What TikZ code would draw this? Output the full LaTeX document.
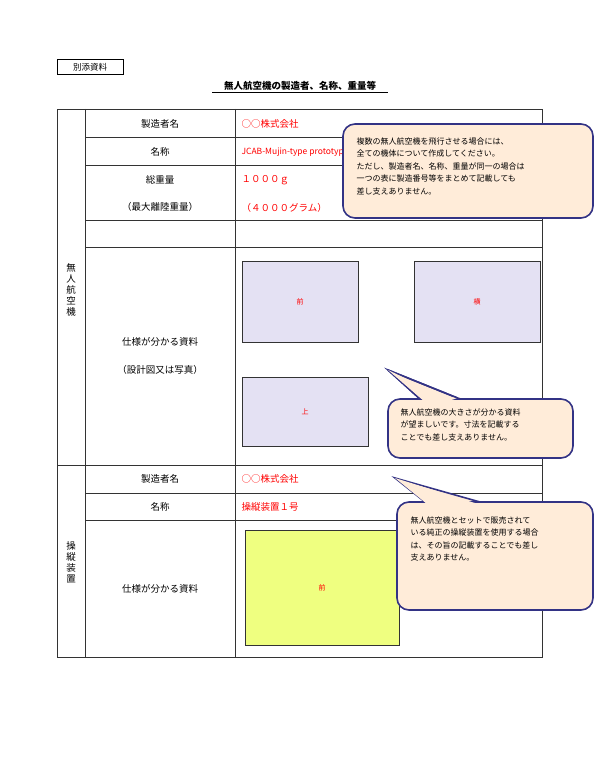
\documentclass[tikz,border=0pt]{standalone}
\usepackage{fontspec}
\setmainfont{Noto Sans CJK JP}
\begin{document}
\begin{tikzpicture}[x=1pt,y=-1pt,
  tl/.style={draw=black!80,line width=0.6pt},
  lab/.style={font=\fontsize{9.5}{11}\selectfont,anchor=center},
  red/.style={font=\fontsize{9.5}{11}\selectfont,text=red,anchor=west},
  pic/.style={draw=black!80,fill=cyan!8!blue!10,line width=0.6pt},
  note/.style={draw=blue!40!black!80,line width=1.6pt,fill=orange!15,rounded corners=12pt},
  nt/.style={font=\fontsize{8}{12.5}\selectfont,align=left,anchor=north west}]
\useasboundingbox (0,0) rectangle (600,775);
\node[draw,minimum width=66,minimum height=15,inner sep=0,font=\fontsize{8.5}{10}\selectfont] (tag) at (90,67) {別添資料};
\node[font=\bfseries\fontsize{9.5}{11}\selectfont] (title) at (300,86) {無人航空機の製造者、名称、重量等};
\draw (212,92.5) -- (388,92.5);
% table
\draw[tl] (57,109) rectangle (542,657);
\draw[tl] (85,109) -- (85,657);
\draw[tl] (235,109) -- (235,657);
\draw[tl] (57,465) -- (542,465);
\foreach \y in {137,165,220,247,493,520} \draw[tl] (85,\y) -- (542,\y);
\node[lab,align=center] (v1) at (71,290) {無\\人\\航\\空\\機};
\node[lab,align=center] (v2) at (71,562) {操\\縦\\装\\置};
\node[lab] (l1) at (160,124) {製造者名};
\node[lab] (l2) at (160,152) {名称};
\node[lab] (l3) at (160,180) {総重量};
\node[lab] (l4) at (160,207) {（最大離陸重量）};
\node[lab] (l5) at (160,342) {仕様が分かる資料};
\node[lab] (l6) at (160,370) {（設計図又は写真）};
\node[lab] (l7) at (160,479) {製造者名};
\node[lab] (l8) at (160,507) {名称};
\node[lab] (l9) at (160,589) {仕様が分かる資料};
\node[red] (r1) at (238,124) {○○株式会社};
\node[red,font=\fontsize{8.5}{10}\selectfont] (r2) at (238,152) {JCAB-Mujin-type prototype};
\node[red] (r3) at (238,180) {１０００ｇ};
\node[red] (r4) at (238,208) {（４０００グラム）};
\node[red] (r5) at (238,479) {○○株式会社};
\node[red] (r6) at (238,507) {操縦装置１号};
% pictures
\draw[pic] (242,261) rectangle (358,342) node[midway,text=red,font=\fontsize{7}{8}\selectfont] (p1) {前};
\draw[pic] (414,261) rectangle (540,342) node[midway,text=red,font=\fontsize{7}{8}\selectfont] (p2) {横};
\draw[pic] (242,377) rectangle (368,446) node[midway,text=red,font=\fontsize{7}{8}\selectfont] (p3) {上};
\draw[draw=black!80,fill=lime!50!yellow!50,line width=0.6pt] (245,530) rectangle (399,645) node[midway,text=red,font=\fontsize{7}{8}\selectfont] (p4) {前};
% callouts
\draw[note] (343,124) rectangle (593,218);
\node[nt] (n1) at (353,134) {複数の無人航空機を飛行させる場合には、\\全ての機体について作成してください。\\ただし、製造者名、名称、重量が同一の場合は\\一つの表に製造番号等をまとめて記載しても\\差し支えありません。};
\coordinate (t2) at (388,370);
\draw[note,rounded corners=0] (t2) -- (420,399) -- (460,399) -- cycle;
\draw[note] (388,399) rectangle (573,458);
\fill[orange!15] (419,397) -- (461,397) -- (445,402) -- cycle;
\draw[blue!40!black!80,line width=1.6pt] (t2) -- (420,399) (t2) -- (460,399);
\fill[orange!15] (425,402) -- (455,402) -- (t2) -- cycle;
\node[nt] (n2) at (397,405) {無人航空機の大きさが分かる資料\\が望ましいです。寸法を記載する\\ことでも差し支えありません。};
\coordinate (t3) at (395,478);
\draw[note] (397,502) rectangle (593,610);
\draw[blue!40!black!80,line width=1.6pt,fill=orange!15] (t3) -- (425,502) -- (480,502) -- cycle;
\fill[orange!15] (427,504) -- (478,504) -- (t3) -- cycle;
\node[nt] (n3) at (407,513) {無人航空機とセットで販売されて\\いる純正の操縦装置を使用する場合\\は、その旨の記載することでも差し\\支えありません。};
\end{tikzpicture}
\end{document}
